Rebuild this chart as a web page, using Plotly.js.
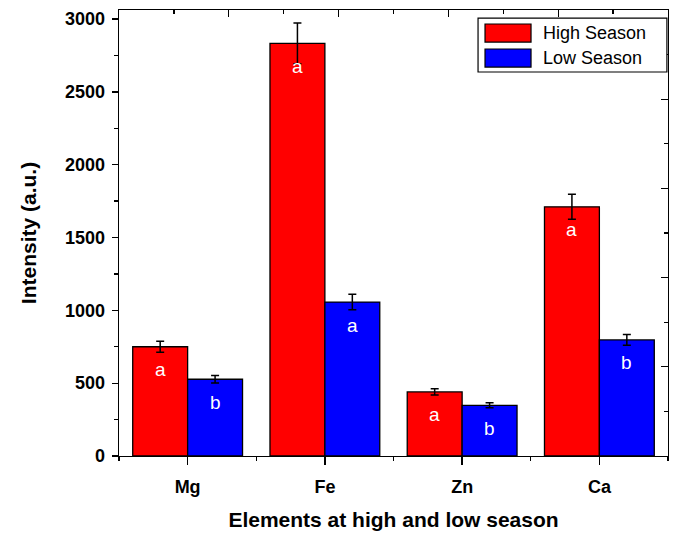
<!DOCTYPE html>
<html>
<head>
<meta charset="utf-8">
<script src="https://cdn.plot.ly/plotly-3.0.1.min.js"></script>
<style>html,body{margin:0;padding:0;background:#fff;}</style>
</head>
<body>
<div id="chart" style="width:677px;height:535px;"></div>
<script>
// Data
const categories = ['Mg', 'Fe', 'Zn', 'Ca'];
const highSeason = [750, 2833, 440, 1711];
const highSeasonErr = [37, 140, 22, 86];
const lowSeason = [527, 1057, 348, 797];
const lowSeasonErr = [25, 53, 17, 37];
const highLetters = ['a', 'a', 'a', 'a'];
const lowLetters = ['b', 'a', 'b', 'b'];
const seriesNames = ['High Season', 'Low Season'];

const FONT = 'Liberation Sans, Arial, Helvetica, sans-serif';

const traces = [
  {
    type: 'bar', name: seriesNames[0], x: categories, y: highSeason,
    marker: {color: '#ff0000', line: {color: 'black', width: 1.3}},
    error_y: {type: 'data', array: highSeasonErr, visible: true, color: 'black', thickness: 1.5, width: 4}
  },
  {
    type: 'bar', name: seriesNames[1], x: categories, y: lowSeason,
    marker: {color: '#0000ff', line: {color: 'black', width: 1.3}},
    error_y: {type: 'data', array: lowSeasonErr, visible: true, color: 'black', thickness: 1.5, width: 4}
  },
  // empty helper traces so the frame axes (top, right, bottom minor) get drawn
  {type: 'scatter', x: [], y: [], xaxis: 'x2', yaxis: 'y', showlegend: false, hoverinfo: 'skip'},
  {type: 'scatter', x: [], y: [], xaxis: 'x', yaxis: 'y2', showlegend: false, hoverinfo: 'skip'},
  {type: 'scatter', x: [], y: [], xaxis: 'x3', yaxis: 'y', showlegend: false, hoverinfo: 'skip'}
];

const annotations = [];
categories.forEach((c, i) => {
  annotations.push({x: i - 0.2, y: highSeason[i], xref: 'x', yref: 'y', text: highLetters[i],
    showarrow: false, yshift: -23, font: {family: FONT, size: 19, color: 'white'}});
  annotations.push({x: i + 0.2, y: lowSeason[i], xref: 'x', yref: 'y', text: lowLetters[i],
    showarrow: false, yshift: -23, font: {family: FONT, size: 19, color: 'white'}});
});
// Legend text
annotations.push({x: 0.7687, y: 0.948, xref: 'paper', yref: 'paper', xanchor: 'left', yanchor: 'middle',
  text: seriesNames[0], showarrow: false, font: {family: FONT, size: 18, color: 'black'}});
annotations.push({x: 0.7687, y: 0.892, xref: 'paper', yref: 'paper', xanchor: 'left', yanchor: 'middle',
  text: seriesNames[1], showarrow: false, font: {family: FONT, size: 18, color: 'black'}});

const shapes = [
  {type: 'rect', xref: 'paper', yref: 'paper', x0: 0.654, x1: 0.998, y0: 0.861, y1: 0.982,
    line: {color: 'black', width: 1.2}, fillcolor: 'white', layer: 'above'},
  {type: 'rect', xref: 'paper', yref: 'paper', x0: 0.6667, x1: 0.7505, y0: 0.928, y1: 0.9686,
    line: {color: 'black', width: 1.2}, fillcolor: '#ff0000', layer: 'above'},
  {type: 'rect', xref: 'paper', yref: 'paper', x0: 0.6667, x1: 0.7505, y0: 0.872, y1: 0.9126,
    line: {color: 'black', width: 1.2}, fillcolor: '#0000ff', layer: 'above'}
];

const tickFont = {family: FONT, size: 18, color: 'black', weight: 'bold'};

const layout = {
  width: 677, height: 535,
  margin: {l: 119, r: 9, t: 10, b: 79},
  paper_bgcolor: 'white', plot_bgcolor: 'white',
  barmode: 'group', bargap: 0.2, bargroupgap: 0,
  showlegend: false,
  font: {family: FONT, color: 'black'},
  xaxis: {
    type: 'category', range: [-0.5, 3.5], showline: true, linecolor: 'black', linewidth: 1.3,
    ticks: 'outside', ticklen: 8, tickwidth: 1.3, tickcolor: 'black', ticklabelstandoff: 6,
    showgrid: false, zeroline: false, tickfont: tickFont,
    title: {text: 'Elements at high and low season', font: {family: FONT, size: 21, color: 'black', weight: 'bold'}, standoff: 16}
  },
  xaxis3: {
    overlaying: 'x', anchor: 'y', side: 'bottom', type: 'linear', range: [-0.5, 3.5],
    tickvals: [-0.5, 0.5, 1.5, 2.5, 3.5], ticks: 'outside', ticklen: 4, tickwidth: 1.3, tickcolor: 'black',
    showticklabels: false, showline: false, showgrid: false, zeroline: false
  },
  xaxis2: {
    overlaying: 'x', anchor: 'y', side: 'top', type: 'linear', range: [0, 5], dtick: 1,
    ticks: 'inside', ticklen: 7, tickwidth: 1.3, tickcolor: 'black',
    minor: {dtick: 0.5, ticks: 'inside', ticklen: 4, tickwidth: 1.3, tickcolor: 'black', showgrid: false},
    showticklabels: false, showline: true, linecolor: 'black', linewidth: 1.3, showgrid: false, zeroline: false
  },
  yaxis: {
    range: [0, 3062], dtick: 500, showline: true, linecolor: 'black', linewidth: 1.3,
    ticks: 'outside', ticklen: 6, tickwidth: 1.3, tickcolor: 'black', ticklabelstandoff: 3,
    minor: {dtick: 250, ticks: 'outside', ticklen: 4, tickwidth: 1.3, tickcolor: 'black', showgrid: false},
    showgrid: false, zeroline: false, tickfont: tickFont,
    title: {text: 'Intensity (a.u.)', font: {family: FONT, size: 21, color: 'black', weight: 'bold'}, standoff: 22}
  },
  yaxis2: {
    overlaying: 'y', anchor: 'x', side: 'right', type: 'linear', range: [0, 5], dtick: 1,
    ticks: 'inside', ticklen: 7, tickwidth: 1.3, tickcolor: 'black',
    minor: {dtick: 0.5, ticks: 'inside', ticklen: 4, tickwidth: 1.3, tickcolor: 'black', showgrid: false},
    showticklabels: false, showline: true, linecolor: 'black', linewidth: 1.3, showgrid: false, zeroline: false
  },
  annotations: annotations,
  shapes: shapes
};

Plotly.newPlot('chart', traces, layout, {displayModeBar: false, staticPlot: true});
</script>
</body>
</html>
